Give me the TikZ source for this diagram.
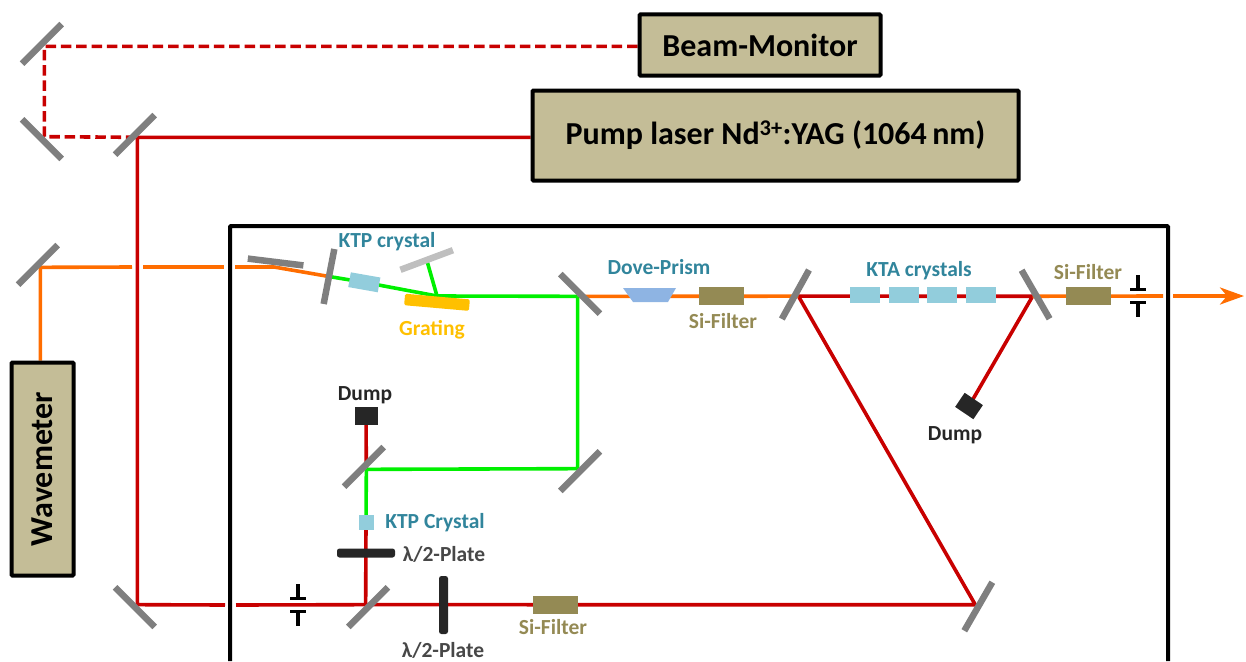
\documentclass[tikz,border=0pt]{standalone}
\usepackage{fontspec}
\setmainfont{Carlito}
\usetikzlibrary{arrows.meta,backgrounds}
\definecolor{boxbeige}{HTML}{C4BD97}
\definecolor{mirrorgray}{HTML}{7F7F7F}
\definecolor{beamred}{HTML}{C80000}
\definecolor{beamgreen}{HTML}{00F000}
\definecolor{beamorange}{HTML}{FF6D00}
\definecolor{crystalblue}{HTML}{92CDDC}
\definecolor{crystaltext}{HTML}{31859C}
\definecolor{filterbrown}{HTML}{948A54}
\definecolor{gratingyellow}{HTML}{FFC000}
\definecolor{darkplate}{HTML}{262626}
\definecolor{prismblue}{HTML}{8EB4E3}
\tikzset{
  devicebox/.style={draw=black,line width=4pt,fill=boxbeige,rounded corners=1pt,inner sep=0pt,
    font=\bfseries\fontsize{32}{38}\selectfont},
  mirror/.style={fill=mirrorgray,minimum width=56pt,minimum height=6.5pt,inner sep=0pt},
  crystal/.style={fill=crystalblue,minimum width=30pt,minimum height=16pt,inner sep=0pt},
  sifilter/.style={fill=filterbrown,minimum width=45pt,minimum height=18pt,inner sep=0pt},
  waveplate/.style={fill=darkplate,rounded corners=2.5pt,minimum width=58pt,minimum height=9pt,inner sep=0pt},
  beamdump/.style={fill=darkplate,minimum width=23pt,minimum height=18pt,inner sep=0pt},
  partlabel/.style={inner sep=0pt,font=\bfseries\fontsize{21.5}{26}\selectfont},
  redbeam/.style={draw=beamred,line width=3.6pt},
  greenbeam/.style={draw=beamgreen,line width=3.6pt},
  orangebeam/.style={draw=beamorange,line width=3.6pt},
  iris/.pic={
    \draw[black,line width=3.2pt] (-8,-6.5) -- (8,-6.5) (0,-6.5) -- (0,-21);
    \draw[black,line width=3.2pt] (-8,6.5) -- (8,6.5) (0,6.5) -- (0,21);
  }
}
\begin{document}
\begin{tikzpicture}[x=1pt,y=-1pt]
  \useasboundingbox (0,0) rectangle (1246,661);
  \coordinate (enclosurebl) at (230,661);
  \coordinate (enclosuretl) at (230,226);
  \coordinate (enclosuretr) at (1168,226);
  \coordinate (enclosurebr) at (1168,661);
  \draw[black,line width=4pt,rounded corners=1pt] (enclosurebl) -- (enclosuretl) -- (enclosuretr) -- (enclosurebr);

  \node (monitor) at (760,45) [devicebox,minimum width=241pt,minimum height=61pt] {Beam-Monitor};
  \node (pump) at (775.5,135.5) [devicebox,minimum width=486pt,minimum height=90pt] {\raisebox{-2pt}{Pump laser Nd\textsuperscript{3+}:YAG (1064\,nm)}};
  \node (wavemeter) at (42.5,469) [devicebox,rotate=90,minimum width=213pt,minimum height=62pt] {Wavemeter};

  \node (mirrortl) at (41.9,43.9) [mirror,rotate=45] {};
  \node (mirrorcl) at (41.9,139.1) [mirror,rotate=-45] {};
  \node (mirrorsplit) at (134.9,134.9) [mirror,rotate=45] {};
  \node (mirrorwave) at (37.9,264.9) [mirror,rotate=45] {};
  \node (mirrorbl) at (134.9,607.1) [mirror,rotate=-45] {};

  \node (mirrorflat) at (275.6,262) [mirror,rotate=-7] {};
  \node (mirrorktp) at (329,276.5) [mirror,rotate=79] {};
  \node (crystalktp) at (364.3,282.3) [crystal,minimum height=15pt,rotate=-10] {};
  \node (grating) at (437,302.3) [fill=gratingyellow,rounded corners=1.5pt,minimum width=65pt,minimum height=11.5pt,inner sep=0pt,rotate=-5] {};
  \node (mirrorlight) at (426.7,260) [mirror,fill=black!25,rotate=20.5] {};
  \coordinate (gratingspot) at (437,296);
  \node (mirrorgreen) at (580.1,293.9) [mirror,rotate=-45] {};
  \fill[prismblue] (623,288) -- (676,288) -- (668,302) -- (633,302) -- cycle;
  \node (filterdove) at (721.5,296) [sifilter] {};
  \node (mirrorkta) at (795.4,294.5) [mirror,rotate=61] {};
  \node (ktaa) at (865,295) [crystal] {};
  \node (ktab) at (903.5,295) [crystal] {};
  \node (ktac) at (941.5,295) [crystal] {};
  \node (ktad) at (980.5,295) [crystal] {};
  \node (mirrorout) at (1035.6,294.5) [mirror,rotate=-60] {};
  \node (filterout) at (1088,296) [sifilter] {};
  \node (dumpright) at (969,406) [beamdump,minimum width=22pt,minimum height=17pt,rotate=-34] {};

  \node (mirrorgb) at (580.1,471.1) [mirror,rotate=45] {};
  \node (mirrorshg) at (363.9,466.9) [mirror,rotate=45] {};
  \node (dumpleft) at (366,416) [beamdump] {};
  \node (crystalshg) at (366,522) [crystal,minimum width=15pt,minimum height=15pt] {};
  \node (plateup) at (366,553) [waveplate] {};
  \node (mirrorbc) at (368.1,607.1) [mirror,rotate=45] {};
  \node (platedown) at (443.5,605) [waveplate,rotate=90] {};
  \node (filterbottom) at (555,605) [sifilter] {};
  \node (mirrorbr) at (978.3,606.5) [mirror,rotate=60] {};

  \pic at (298,605) {iris};
  \pic at (1138,296) {iris};

  \coordinate (orangegapa) at (132,267);
  \coordinate (orangegapb) at (143,267);
  \coordinate (orangegapc) at (224,267);
  \coordinate (orangegapd) at (235,267);
  \coordinate (orangebend) at (274,267);
  \coordinate (redgapa) at (225,605);
  \coordinate (redgapb) at (236,605);
  \coordinate (outgapa) at (1163,296);
  \coordinate (outgapb) at (1173,296);
  \coordinate (outend) at (1244,296);

  \begin{scope}[on background layer]
    \draw[redbeam,dash pattern=on 10.5pt off 4.8pt] (monitor.west |- mirrortl.south) -- (mirrortl.south) -- (mirrorcl.north) -- (mirrorsplit.south);
    \draw[redbeam] (pump.west |- mirrorsplit.south) -- (mirrorsplit.south) -- (mirrorbl.north) -- (redgapa);
    \draw[redbeam] (redgapb) -- (mirrorbc.north) -- (mirrorbr.north) -- (mirrorkta.south) -- (mirrorout.south) -- (dumpright.center);
    \draw[redbeam] (mirrorbc.north) -- (crystalshg.center);
    \draw[redbeam] (mirrorshg.south) -- (dumpleft.center);
    \draw[orangebeam] (mirrorwave.south |- wavemeter.east) -- (mirrorwave.south) -- (orangegapa);
    \draw[orangebeam] (orangegapb) -- (orangegapc);
    \draw[orangebeam] (orangegapd) -- (orangebend) -- (mirrorktp.center);
    \draw[orangebeam] (mirrorgreen.south) -- (mirrorkta.south);
    \draw[orangebeam] (mirrorout.south) -- (outgapa);
    \draw[orangebeam,-{Stealth[length=24pt,width=17pt,inset=7pt]}] (outgapb) -- (outend);
    \draw[greenbeam] (mirrorktp.center) -- (crystalktp.center) -- (gratingspot) -- (mirrorgreen.south);
    \draw[greenbeam] (gratingspot) -- (mirrorlight.center);
    \draw[greenbeam] (mirrorgreen.south) -- (mirrorgb.north) -- (mirrorshg.south) -- (crystalshg.center);
  \end{scope}

  \node (labelktp) at (387,242) [partlabel,text=crystaltext] {KTP crystal};
  \node (labelgrating) at (432,330) [partlabel,text=gratingyellow] {Grating};
  \node (labeldove) at (659,267) [partlabel,text=crystaltext] {Dove-Prism};
  \node (labelfilterdove) at (723,321) [partlabel,text=filterbrown] {Si-Filter};
  \node (labelkta) at (919,271) [partlabel,text=crystaltext] {KTA crystals};
  \node (labelfilterout) at (1088,272) [partlabel,text=filterbrown] {Si-Filter};
  \node (labeldumpleft) at (365,395) [partlabel,text=darkplate] {Dump};
  \node (labeldumpright) at (955,435) [partlabel,text=darkplate] {Dump};
  \node (labelshg) at (435,523) [partlabel,text=crystaltext] {KTP Crystal};
  \node (labelplateup) at (444,554) [partlabel,text=darkplate!85] {λ/2-Plate};
  \node (labelplatedown) at (443,650) [partlabel,text=darkplate!85] {λ/2-Plate};
  \node (labelfilterbottom) at (553,627) [partlabel,text=filterbrown] {Si-Filter};
\end{tikzpicture}
\end{document}
